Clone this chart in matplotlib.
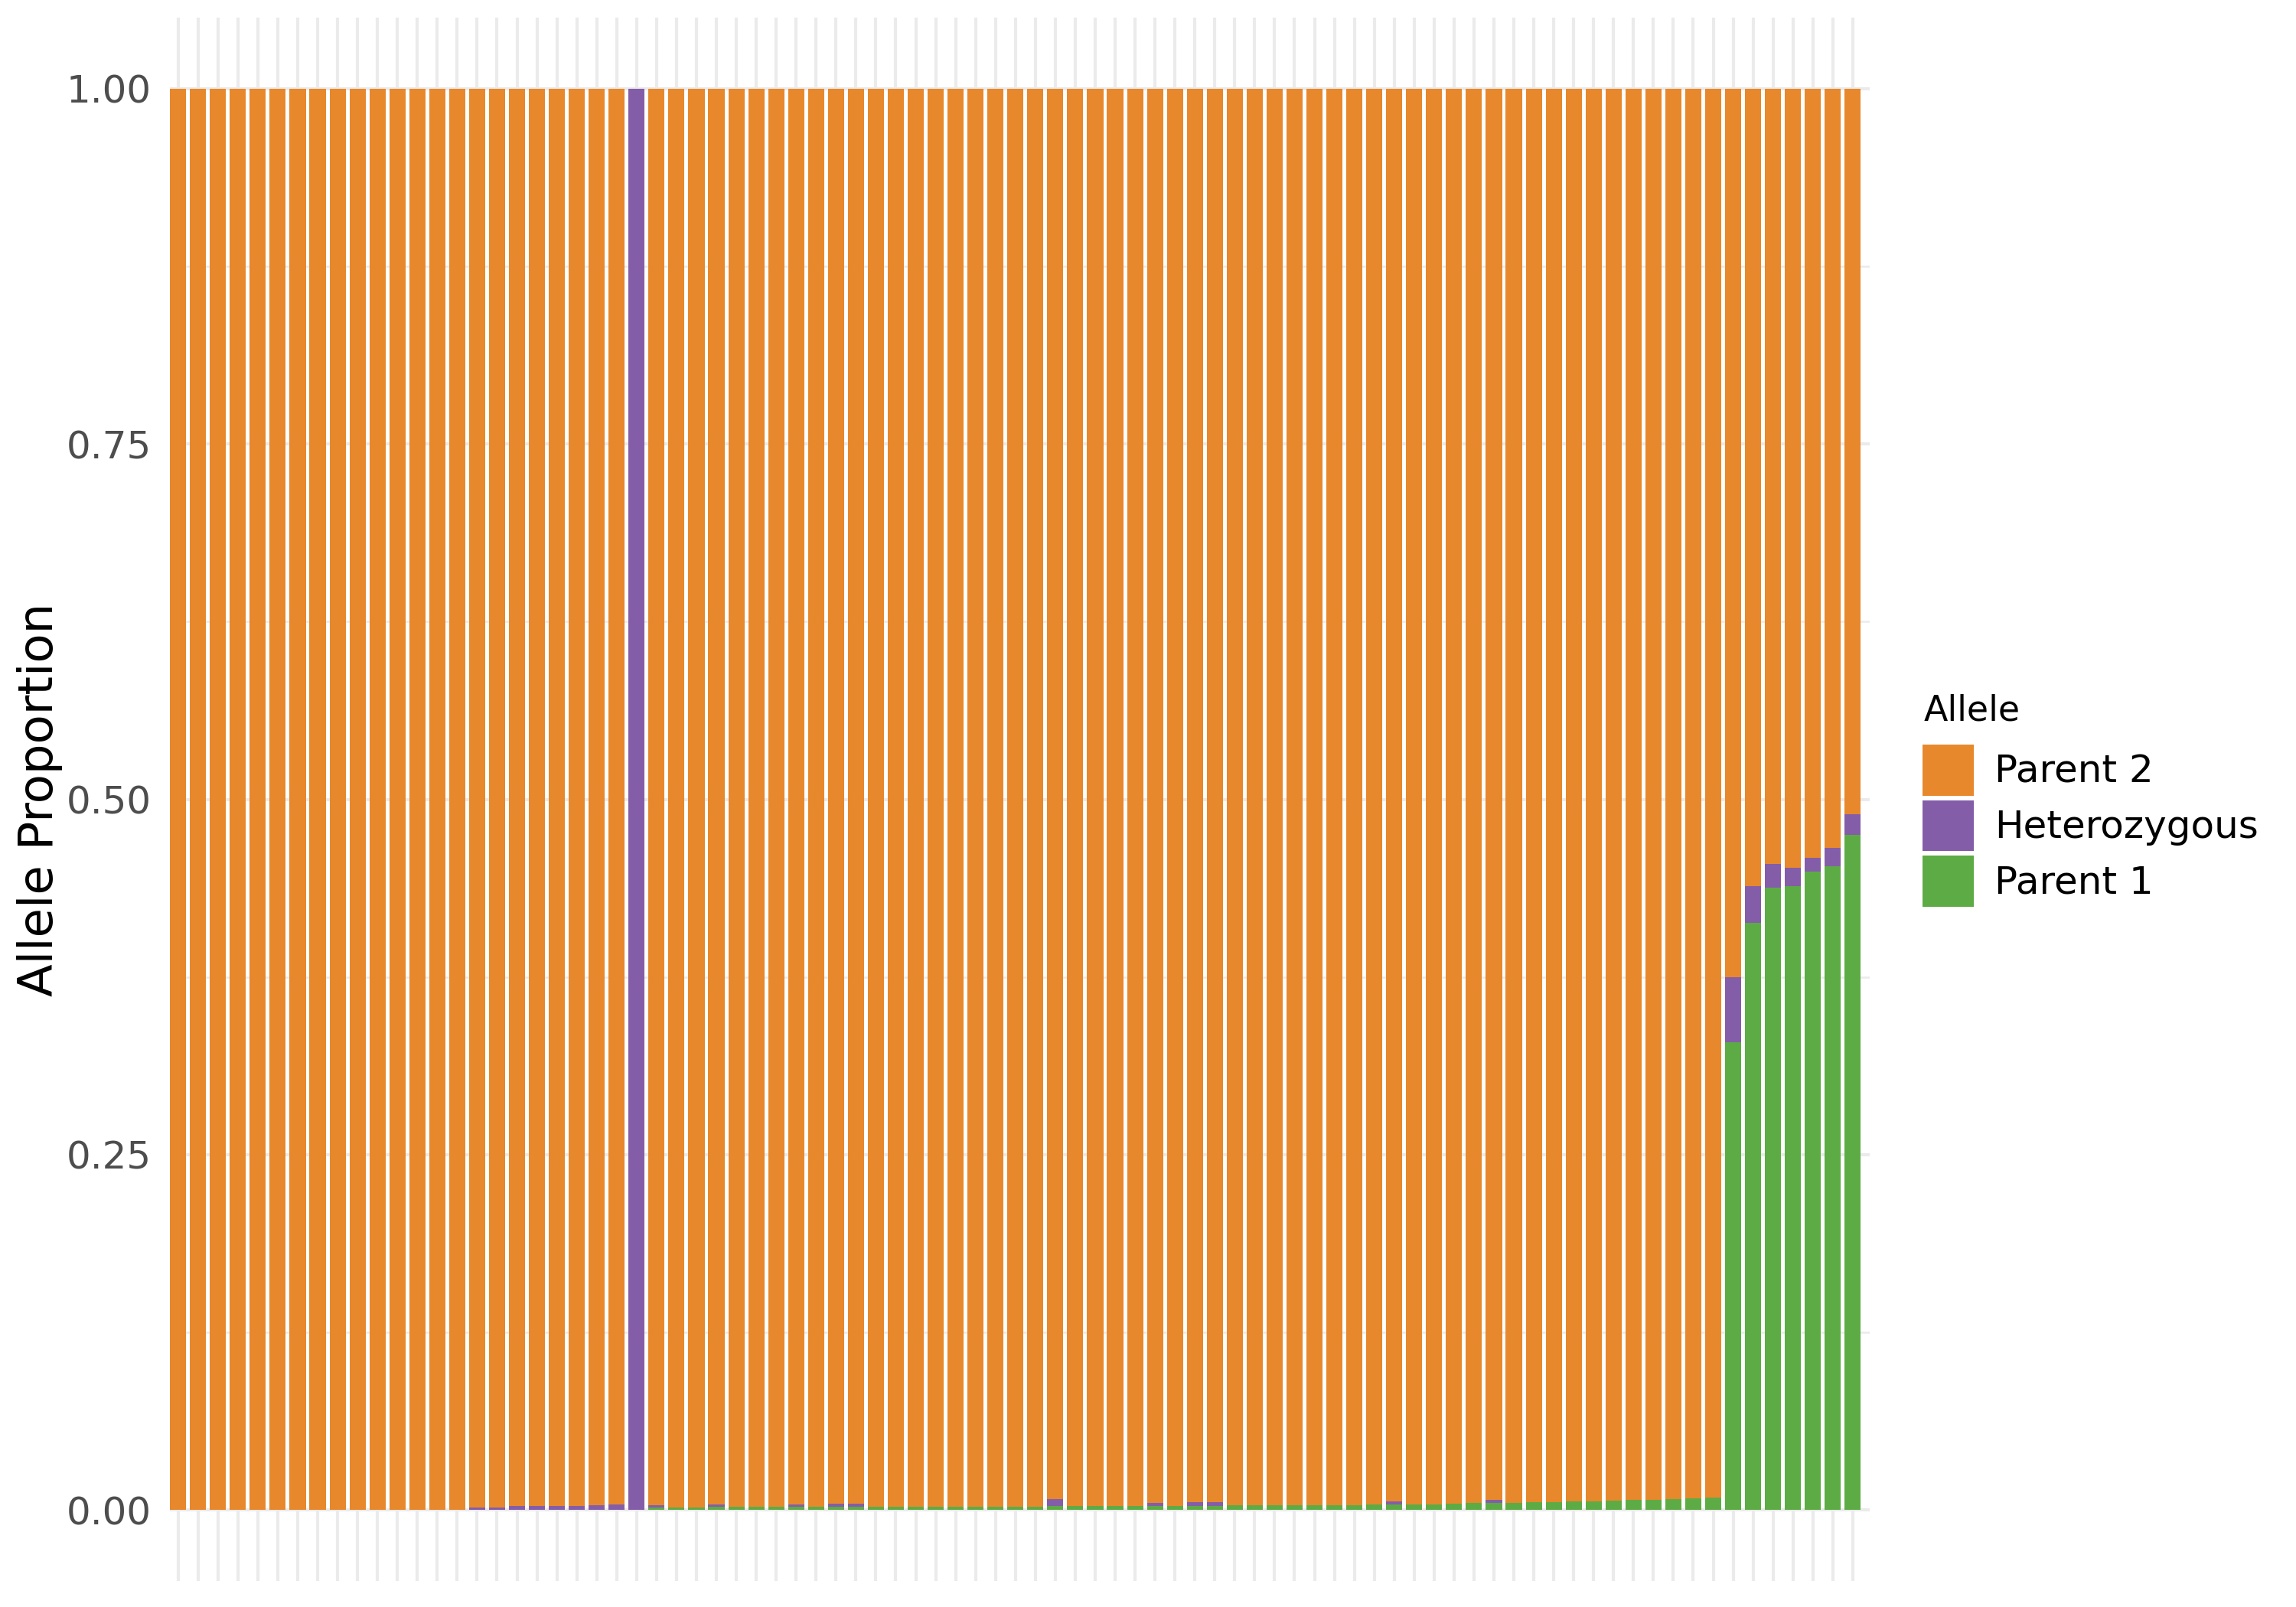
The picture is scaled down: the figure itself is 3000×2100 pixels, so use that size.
import numpy as np
import matplotlib
matplotlib.use('Agg')
import matplotlib.pyplot as plt
from matplotlib.patches import Patch

# allele proportions per sample (green = Parent 1, purple = Heterozygous)
parent1 = ([0.0] * 24 + [0.0016] * 3 + [0.0022] * 17 + [0.0027] * 9
           + [0.0032] * 7 + [0.0038] * 4 + [0.0043] + [0.0048] * 3
           + [0.0054] * 2 + [0.0059] * 2 + [0.0065] + [0.0070] * 2
           + [0.0075, 0.0081, 0.0086]
           + [0.329, 0.413, 0.438, 0.439, 0.449, 0.453, 0.475])

het = [0.0] * 85
het_points = {15: 0.0016, 16: 0.0016, 17: 0.0027, 18: 0.0027, 19: 0.0027,
              20: 0.0027, 21: 0.0032, 22: 0.0038, 23: 1.0, 24: 0.0016,
              27: 0.0016, 31: 0.0016, 33: 0.0022, 34: 0.0022, 44: 0.0048,
              49: 0.0022, 51: 0.0027, 52: 0.0027, 61: 0.0022, 66: 0.0022,
              78: 0.046, 79: 0.026, 80: 0.0165, 81: 0.0128, 82: 0.010,
              83: 0.0129, 84: 0.0145}
for k, v in het_points.items():
    het[k] = v

parent1 = np.array(parent1)
het = np.array(het)
parent2 = 1.0 - parent1 - het

labels = ['Parent 2', 'Heterozygous', 'Parent 1']
colors = {'Parent 2': '#E7882C', 'Heterozygous': '#845DA9', 'Parent 1': '#5DAB45'}


def main():
    x = np.arange(len(parent1))
    fig = plt.figure(figsize=(10, 7), dpi=300)
    ax = fig.add_axes([222 / 3000, 1 - 2066 / 2100, 2221 / 3000, 2043 / 2100])

    w = 0.81
    ax.bar(x, parent1, width=w, color=colors['Parent 1'], zorder=3)
    ax.bar(x, het, width=w, bottom=parent1, color=colors['Heterozygous'], zorder=3)
    ax.bar(x, parent2, width=w, bottom=parent1 + het, color=colors['Parent 2'], zorder=3)

    ax.set_xlim(-0.41, 84.85)
    ax.set_ylim(-0.05, 1.05)
    ax.set_xticks(x)
    ax.set_xticklabels([])
    ax.set_yticks([0, 0.25, 0.5, 0.75, 1.0])
    ax.set_yticklabels(['0.00', '0.25', '0.50', '0.75', '1.00'])
    ax.set_yticks([0.125, 0.375, 0.625, 0.875], minor=True)
    ax.tick_params(axis='both', which='both', length=0)
    ax.tick_params(axis='y', labelsize=12, labelcolor='#4D4D4D', pad=5.8)

    ax.grid(True, which='major', color='#EBEBEB', linewidth=1.0, zorder=0)
    ax.grid(True, which='minor', axis='y', color='#EBEBEB', linewidth=0.6, zorder=0)
    ax.set_axisbelow(True)
    for s in ax.spines.values():
        s.set_visible(False)

    ax.set_ylabel('Allele Proportion', fontsize=15)
    ax.yaxis.set_label_coords(-0.063, 0.5)

    # legend title drawn on its own so the gap to the keys can be set
    fig.text(2514 / 3000, 1 - 942 / 2100, 'Allele', fontsize=11,
             ha='left', va='baseline')
    handles = [Patch(facecolor=colors[l], edgecolor='none') for l in labels]
    fig.legend(handles, labels, loc='upper left',
               bbox_to_anchor=(2512 / 3000, 1 - 973 / 2100),
               frameon=False, fontsize=12,
               handlelength=1.34, handleheight=1.674,
               handletextpad=0.54, labelspacing=0.12,
               borderpad=0, borderaxespad=0)

    fig.savefig('out.png', dpi=300)


if __name__ == '__main__':
    main()
